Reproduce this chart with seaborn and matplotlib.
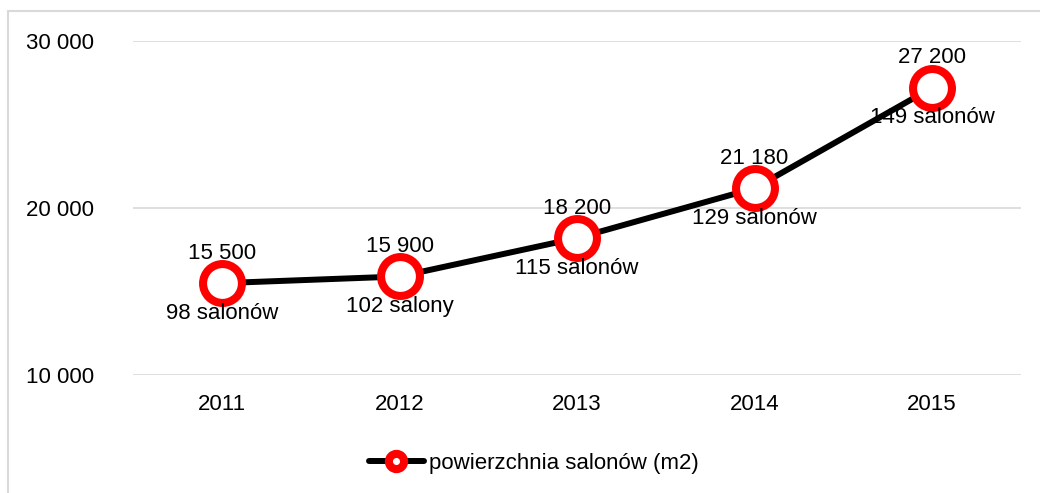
import matplotlib.pyplot as plt
import seaborn as sns
import pandas as pd
from matplotlib.lines import Line2D
from matplotlib.ticker import FuncFormatter


# -------------------- Data --------------------

years = ["2011", "2012", "2013", "2014", "2015"]
area = [15500, 15900, 18200, 21180, 27200]
salons = ["98 salonów", "102 salony", "115 salonów", "129 salonów", "149 salonów"]
series_name = "powierzchnia salonów (m2)"

df = pd.DataFrame({"rok": years, "powierzchnia": area})


# -------------------- Plot --------------------

sns.set_theme(style="white")
plt.rcParams["font.family"] = ["Liberation Sans", "DejaVu Sans"]
plt.rcParams["text.color"] = "black"

FS = 16
RED = "#ff0000"

fig = plt.figure(figsize=(10.4, 4.93), dpi=100)
ax = fig.add_axes([133.25 / 1040, 1 - 375 / 493, (1020.75 - 133.25) / 1040, (375 - 41) / 493])

sns.lineplot(
    data=df,
    x="rok",
    y="powierzchnia",
    sort=False,
    color="black",
    linewidth=4.3,
    marker="o",
    markersize=28,
    markerfacecolor="white",
    markeredgecolor=RED,
    markeredgewidth=5.8,
    ax=ax,
    legend=False,
)

# data labels
for i, (v, s) in enumerate(zip(area, salons)):
    val = f"{v:,}".replace(",", " ")
    ax.annotate(val, (i, v), xytext=(0, 21.6), textcoords="offset points",
                ha="center", va="center", fontsize=FS, color="black", zorder=5)
    ax.annotate(s, (i, v), xytext=(0, -21.6), textcoords="offset points",
                ha="center", va="center", fontsize=FS, color="black", zorder=5)

# axes
ax.set_xlim(-0.5, len(years) - 0.5)
ax.set_ylim(10000, 30000)
ax.set_yticks([10000, 20000, 30000])
ax.yaxis.set_major_formatter(FuncFormatter(lambda v, p: f"{int(v):,}".replace(",", " ")))
ax.set_xlabel("")
ax.set_ylabel("")
ax.tick_params(axis="y", length=0, pad=77.4, labelsize=FS, labelcolor="black")
ax.tick_params(axis="x", length=0, pad=14, labelsize=FS, labelcolor="black")
for t in ax.get_yticklabels():
    t.set_horizontalalignment("left")

ax.grid(True, axis="y", color="#d9d9d9", linewidth=1.2)
ax.grid(False, axis="x")
ax.set_axisbelow(True)
sns.despine(ax=ax, left=True, bottom=True)

# legend
handle = Line2D([], [], color="black", linewidth=4.3, marker="o", markersize=11,
                markerfacecolor="white", markeredgecolor=RED, markeredgewidth=5.8)
leg = fig.legend([handle], [series_name], loc="center", bbox_to_anchor=(533.5 / 1040, 1 - 463 / 493),
                 frameon=False, fontsize=FS, handlelength=2.5, handletextpad=0.2)
for t in leg.get_texts():
    t.set_color("black")

# outer frame
fig.add_artist(Line2D([8 / 1040, 8 / 1040], [0, 1 - 11 / 493], color="#d9d9d9", linewidth=1.5,
                      transform=fig.transFigure))
fig.add_artist(Line2D([8 / 1040, 1], [1 - 11 / 493, 1 - 11 / 493], color="#d9d9d9", linewidth=1.5,
                      transform=fig.transFigure))

fig.savefig("out.png", dpi=100)
